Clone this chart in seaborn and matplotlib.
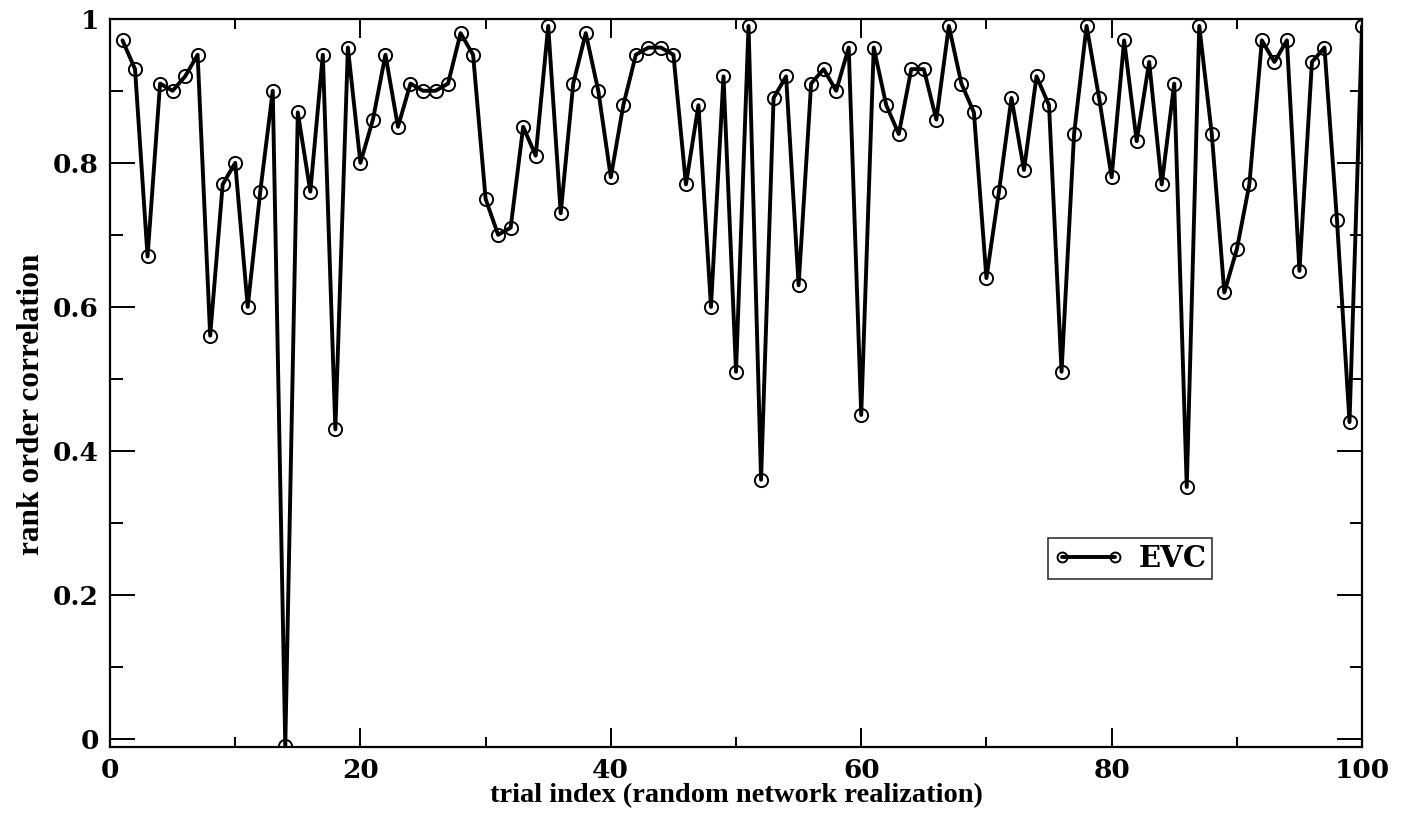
import numpy as np
import pandas as pd
import seaborn as sns
import matplotlib
matplotlib.use("Agg")
import matplotlib.pyplot as plt
from matplotlib.ticker import MultipleLocator, FuncFormatter


# =========================================================
# DATA
# =========================================================

trial = list(range(1, 101))

evc = [
    0.97, 0.93, 0.67, 0.91, 0.90, 0.92, 0.95, 0.56, 0.77, 0.80,
    0.60, 0.76, 0.90, -0.01, 0.87, 0.76, 0.95, 0.43, 0.96, 0.80,
    0.86, 0.95, 0.85, 0.91, 0.90, 0.90, 0.91, 0.98, 0.95, 0.75,
    0.70, 0.71, 0.85, 0.81, 0.99, 0.73, 0.91, 0.98, 0.90, 0.78,
    0.88, 0.95, 0.96, 0.96, 0.95, 0.77, 0.88, 0.60, 0.92, 0.51,
    0.99, 0.36, 0.89, 0.92, 0.63, 0.91, 0.93, 0.90, 0.96, 0.45,
    0.96, 0.88, 0.84, 0.93, 0.93, 0.86, 0.99, 0.91, 0.87, 0.64,
    0.76, 0.89, 0.79, 0.92, 0.88, 0.51, 0.84, 0.99, 0.89, 0.78,
    0.97, 0.83, 0.94, 0.77, 0.91, 0.35, 0.99, 0.84, 0.62, 0.68,
    0.77, 0.97, 0.94, 0.97, 0.65, 0.94, 0.96, 0.72, 0.44, 0.99,
]

series_label = "EVC"
x_label = "trial index (random network realization)"
y_label = "rank order correlation"


# =========================================================
# PLOT
# =========================================================

def plot_rank_correlation(df: pd.DataFrame):
    sns.set_style("ticks")
    plt.rcParams["text.color"] = "black"
    plt.rcParams["axes.labelcolor"] = "black"
    plt.rcParams["xtick.color"] = "black"
    plt.rcParams["ytick.color"] = "black"
    tick_font = "DejaVu Serif"
    label_font = ["Liberation Serif", "DejaVu Serif"]

    fig = plt.figure(figsize=(14.03, 8.15), dpi=100)
    ax = fig.add_axes([0.0784, 0.0834, 0.8924, 0.8936])

    sns.lineplot(
        data=df, x="trial", y="value", ax=ax,
        color="black", linewidth=2.8,
        marker="o", markersize=9.5, markerfacecolor="none",
        markeredgecolor="black", markeredgewidth=1.4,
        label=series_label,
    )

    ax.set_xlim(0, 100)
    ax.set_ylim(-0.011, 1.0)

    ax.xaxis.set_major_locator(MultipleLocator(20))
    ax.xaxis.set_minor_locator(MultipleLocator(10))
    ax.yaxis.set_major_locator(MultipleLocator(0.2))
    ax.yaxis.set_minor_locator(MultipleLocator(0.1))
    ax.yaxis.set_major_formatter(FuncFormatter(lambda v, p: f"{v:g}"))

    ax.tick_params(axis="both", which="both", direction="in",
                   top=True, right=True, color="black",
                   labelcolor="black", width=1.4)
    ax.tick_params(axis="x", which="major", length=14, pad=8)
    ax.tick_params(axis="x", which="minor", length=7)
    ax.tick_params(axis="y", which="major", length=18, pad=8)
    ax.tick_params(axis="y", which="minor", length=9)

    for lab in ax.get_xticklabels() + ax.get_yticklabels():
        lab.set_fontfamily(tick_font)
        lab.set_fontweight("bold")
        lab.set_fontsize(19)

    for side in ax.spines.values():
        side.set_linewidth(1.6)
        side.set_color("black")

    ax.set_xlabel(x_label, family=label_font, fontweight="bold",
                  fontsize=20.5, labelpad=0, color="black")
    ax.set_ylabel(y_label, family=label_font, fontweight="bold",
                  fontsize=22.5, color="black")
    ax.yaxis.set_label_coords(-0.051, 0.47)

    leg = ax.legend(loc="upper left", bbox_to_anchor=(0.749, 0.287),
                    borderaxespad=0, frameon=True, fancybox=False,
                    numpoints=2, markerscale=0.75,
                    handlelength=2.4, handletextpad=0.5,
                    borderpad=0.2,
                    prop={"family": tick_font, "weight": "bold", "size": 21})
    leg.get_frame().set_edgecolor("black")
    leg.get_frame().set_linewidth(1.2)
    for txt in leg.get_texts():
        txt.set_color("black")

    fig.savefig("out.png", dpi=100)


df = pd.DataFrame({"trial": trial, "value": evc})
plot_rank_correlation(df)
